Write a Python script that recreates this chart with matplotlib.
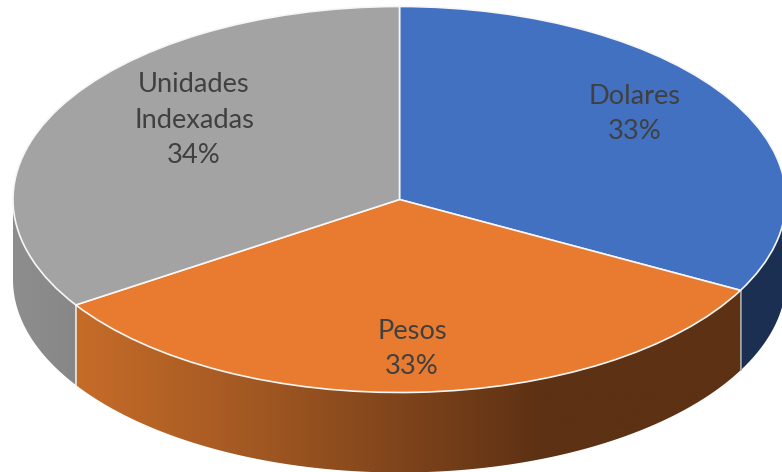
import numpy as np
import matplotlib
matplotlib.use('Agg')
import matplotlib.pyplot as plt
from matplotlib.colors import LinearSegmentedColormap
from matplotlib.patches import Polygon

categories = ['Dolares', 'Pesos', 'Unidades\nIndexadas']
values = [32.8, 33.0, 34.2]
top_colors = ['#4271C2', '#E97B30', '#A3A3A3']

W, H = 782, 472
CX, CY, RX, RY = 399.5, 199.5, 386.5, 193.0
DEPTH = 80 / RY


# pixel position to unit-ellipse coordinates
def px(x, y):
    return (x - CX) / RX, (CY - y) / RY


def wall(ax, a1, a2, cmap):
    # side wall below the rim, angles in degrees, only the front half shows
    a1, a2 = max(a1, -180), min(a2, 0)
    t = np.radians(np.linspace(a1, a2, 200))
    xs, ys = np.cos(t), np.sin(t)
    pts = np.r_[np.c_[xs, ys], np.c_[xs, ys - DEPTH][::-1]]
    poly = Polygon(pts, closed=True, fc='none', ec='none', transform=ax.transData)
    ax.add_patch(poly)
    grad = np.linspace(0, 1, 256).reshape(1, -1)
    im = ax.imshow(grad, cmap=cmap, aspect='auto', extent=(xs.min(), xs.max(), -2, 0), zorder=1)
    im.set_clip_path(poly)


fig = plt.figure(figsize=(W / 100, H / 100), dpi=100)
ax = fig.add_axes([0, 0, 1, 1])

fracs = np.array(values) / sum(values)
edges = 90 - 360 * np.r_[0, np.cumsum(fracs)]

blue_cm = LinearSegmentedColormap.from_list('b', ['#1B2F52', '#1B2F52'])
orange_cm = LinearSegmentedColormap.from_list('o', [(0, '#C66C29'), (0.28, '#A05722'), (0.7, '#5D3114'), (1, '#5D3114')])
gray_cm = LinearSegmentedColormap.from_list('g', ['#8E8E8E', '#878787'])

wall(ax, edges[1], edges[0], blue_cm)
wall(ax, edges[2], edges[1], orange_cm)
wall(ax, edges[3], edges[2], gray_cm)

# seams between the wall pieces
for a, c in zip(edges[1:3], ['#A8A8A8', '#F0F0F0']):
    x = np.cos(np.radians(a))
    y = np.sin(np.radians(a))
    ax.plot([x, x], [y, y - DEPTH], color=c, lw=1.1, zorder=2)

wedges, _ = ax.pie(values, colors=top_colors, startangle=90, counterclock=False, radius=1,
                   wedgeprops={'edgecolor': '#F6F6F6', 'linewidth': 1.2})
for w in wedges:
    w.set_zorder(3)

ax.set_aspect('auto')
ax.set_xlim((0 - CX) / RX, (W - CX) / RX)
ax.set_ylim((CY - H) / RY, CY / RY)
ax.axis('off')

label_pos = [(635, 114), (412, 349), (194, 120)]
for name, v, pos in zip(categories, values, label_pos):
    x, y = px(*pos)
    ax.text(x, y, '%s\n%.0f%%' % (name, v), ha='center', va='center', color='#404040',
            fontsize=19.6, family='Lato', linespacing=1.52, zorder=5)

fig.savefig('out.png', dpi=100, facecolor='white')
